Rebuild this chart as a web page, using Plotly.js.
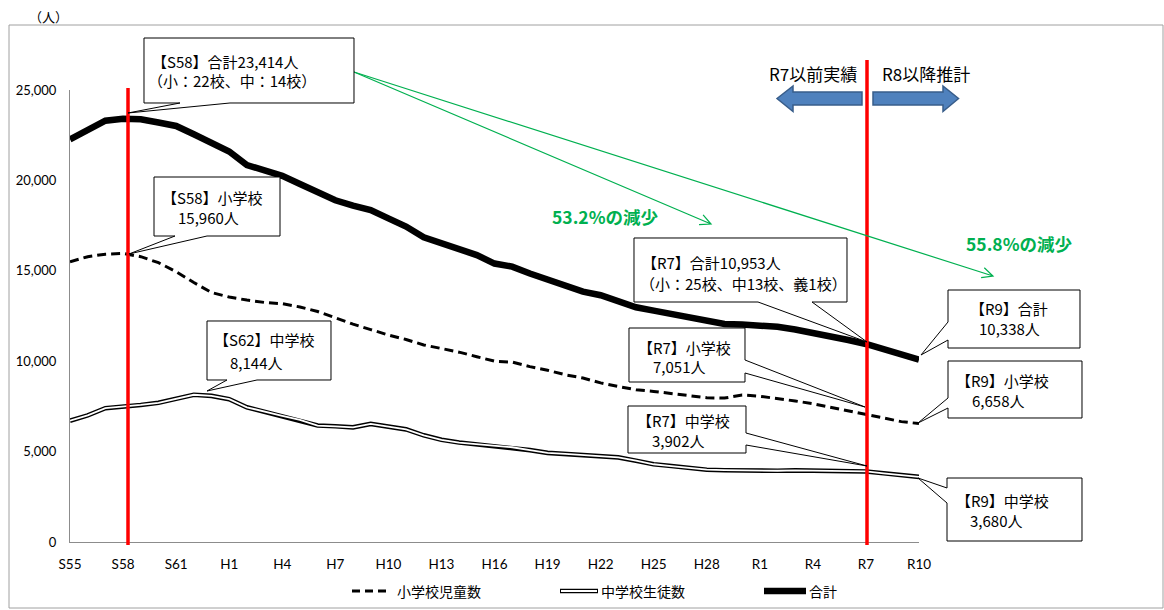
<!DOCTYPE html>
<html><head><meta charset="utf-8">
<script src="https://cdn.plot.ly/plotly-3.0.1.min.js"></script>
<style>html,body{margin:0;padding:0;background:#fff;} #chart{width:1164px;height:610px;}</style>
</head><body><div id="chart"></div>
<script>
// ---- data ----
const years = [1980,1981,1982,1983,1984,1985,1986,1987,1988,1989,
  1990,1991,1992,1993,1994,1995,1996,1997,1998,1999,
  2000,2001,2002,2003,2004,2005,2006,2007,2008,2009,
  2010,2011,2012,2013,2014,2015,2016,2017,2018,2019,
  2020,2021,2022,2023,2024,2025,2026,2027,2028];
const elementary = [15500,15780,15920,15960,15780,15450,14950,14350,13800,13550,
  13380,13250,13180,13000,12750,12400,12050,11750,11450,11200,
  10900,10700,10500,10250,10000,9950,9700,9500,9250,9070,
  8800,8600,8420,8330,8200,8080,7980,7960,8130,8060,
  7950,7800,7650,7450,7250,7051,6850,6658,6550];
const middle = [6710,7000,7400,7470,7580,7700,7930,8144,8080,7900,
  7450,7200,6980,6750,6440,6400,6340,6530,6380,6230,
  5900,5650,5500,5400,5320,5240,5080,4930,4870,4810,
  4750,4680,4500,4300,4200,4100,4000,3970,3950,3930,
  3940,3960,3950,3930,3920,3902,3800,3680,3600];
const total = [22270,22750,23300,23414,23380,23200,23010,22550,22100,21600,
  20850,20550,20250,19800,19300,18900,18600,18360,17900,17450,
  16850,16500,16150,15870,15400,15230,14850,14500,14150,13850,
  13650,13300,12980,12800,12600,12420,12250,12060,12030,11970,
  11900,11750,11580,11380,11170,10953,10680,10338,10080];
const tickVals = [1980,1983,1986,1989,1992,1995,1998,2001,2004,2007,2010,2013,2016,2019,2022,2025,2028];
const tickText = ['S55','S58','S61','H1','H4','H7','H10','H13','H16','H19','H22','H25','H28','R1','R4','R7','R10'];
const yTicks = [0,5000,10000,15000,20000,25000];
const seriesNames = ['小学校児童数','中学校生徒数','合計'];

// ---- geometry helpers (pixel -> paper) ----
const L=70, R=919, T=90, B=542;
function px(x){return (x-L)/(R-L);}
function py(y){return (B-y)/(B-T);}
function P(x,y){return px(x).toFixed(5)+','+py(y).toFixed(5);}

const JP = '"Noto Sans CJK JP", "Noto Sans", sans-serif';
const LAT = 'Lato, "Noto Sans", sans-serif';

const traces = [
  {x:years, y:elementary, name:seriesNames[0], type:'scatter', mode:'lines',
   line:{color:'#000', width:3, dash:'9px,5px'}, showlegend:false, hoverinfo:'x+y'},
  {x:years, y:middle, name:seriesNames[1], type:'scatter', mode:'lines',
   line:{color:'#000', width:4.6}, showlegend:false, hoverinfo:'x+y'},
  {x:years, y:middle, name:seriesNames[1], type:'scatter', mode:'lines',
   line:{color:'#fff', width:1.8}, showlegend:false, hoverinfo:'skip'},
  {x:years, y:total, name:seriesNames[2], type:'scatter', mode:'lines',
   line:{color:'#000', width:6.5}, showlegend:false, hoverinfo:'x+y'}
];

const shapes = [];
const annotations = [];

// outer chart border
shapes.push({type:'rect', xref:'paper', yref:'paper', x0:px(9), x1:px(1163), y0:py(608), y1:py(25),
  line:{color:'#a0a0a0', width:1}, fillcolor:'rgba(0,0,0,0)', layer:'below'});

// red divider lines
shapes.push({type:'line', xref:'paper', yref:'paper', x0:px(128), x1:px(128), y0:py(545), y1:py(88),
  line:{color:'#ff0000', width:3.5}});
shapes.push({type:'line', xref:'paper', yref:'paper', x0:px(867), x1:px(867), y0:py(545), y1:py(60),
  line:{color:'#ff0000', width:3.5}});

// blue block arrows
function poly(pts){return 'M'+pts.map(p=>P(p[0],p[1])).join(' L')+' Z';}
shapes.push({type:'path', xref:'paper', yref:'paper',
  path:poly([[777,98.5],[793,86],[793,92],[862,92],[862,105],[793,105],[793,111.5]]),
  fillcolor:'#4f81bd', line:{color:'#385d8a', width:1.5}});
shapes.push({type:'path', xref:'paper', yref:'paper',
  path:poly([[873,92],[943,92],[943,86],[958.5,98.5],[943,111.5],[943,105],[873,105]]),
  fillcolor:'#4f81bd', line:{color:'#385d8a', width:1.5}});

// green arrows (open V heads)
function greenArrow(x0,y0,x1,y1){
  const a = Math.atan2(y1-y0, x1-x0), len=12, sp=0.45;
  const h1=[x1-len*Math.cos(a-sp), y1-len*Math.sin(a-sp)];
  const h2=[x1-len*Math.cos(a+sp), y1-len*Math.sin(a+sp)];
  return 'M'+P(x0,y0)+' L'+P(x1,y1)+' M'+P(h1[0],h1[1])+' L'+P(x1,y1)+' L'+P(h2[0],h2[1]);
}
shapes.push({type:'path', xref:'paper', yref:'paper', path:greenArrow(354,72,711,224),
  line:{color:'#00b050', width:1.2}});
shapes.push({type:'path', xref:'paper', yref:'paper', path:greenArrow(354,72,993,276),
  line:{color:'#00b050', width:1.2}});

// callout boxes
function callout(b, side, base, tip){
  const [x0,y0,x1,y1]=b; let pts;
  if(side==='bottom') pts=[[x0,y0],[x1,y0],[x1,y1],[base[1],y1],tip,[base[0],y1],[x0,y1]];
  else if(side==='right') pts=[[x0,y0],[x1,y0],[x1,base[0]],tip,[x1,base[1]],[x1,y1],[x0,y1]];
  else pts=[[x0,y0],[x1,y0],[x1,y1],[x0,y1],[x0,base[1]],tip,[x0,base[0]]];
  shapes.push({type:'path', xref:'paper', yref:'paper', path:poly(pts),
    fillcolor:'#fff', line:{color:'#000', width:1}});
}
callout([144,38,354,103],'bottom',[180,230],[128,113]);
callout([154,177,280,236],'bottom',[175,207],[129,254]);
callout([207,321,331,380],'bottom',[227,257],[207,391]);
callout([634,238,847,302],'bottom',[758,812],[867,342]);
callout([629,328,745,382],'right',[360,373],[865,407]);
callout([628,406,746,453],'right',[433,445],[867,466]);
callout([948,290,1080,348],'left',[322,340],[921,355]);
callout([948,361,1082,418],'left',[398,408],[918,423]);
callout([947,478,1082,541],'left',[488,503],[918,478]);

function txt(t,x,y,opt){
  opt=opt||{};
  annotations.push({text:t, xref:'paper', yref:'paper', x:px(x), y:py(y), xanchor:opt.anchor||'left', yanchor:'middle',
    showarrow:false, font:{family:opt.family||JP, size:opt.size||15, color:opt.color||'#000'}});
}
// callout texts
txt('【S58】合計23,414人',150,61);
txt('（小：22校、中：14校）',146,80);
txt('【S58】小学校',160,197);
txt('15,960人',176,217);
txt('【S62】中学校',212,339);
txt('8,144人',228,362);
txt('【R7】合計10,953人',640,262);
txt('（小：25校、中13校、義1校）',638,283);
txt('【R7】小学校',636,347);
txt('7,051人',651,366);
txt('【R7】中学校',635,420);
txt('3,902人',650,440);
txt('【R9】合計',968,308);
txt('10,338人',977,328);
txt('【R9】小学校',954,380);
txt('6,658人',970,400);
txt('【R9】中学校',954,500);
txt('3,680人',968,520);

// green labels
txt('<b>53.2%の減少</b>',550,216,{color:'#00b050',size:17.5});
txt('<b>55.8%の減少</b>',964,243,{color:'#00b050',size:17.5});

// period labels
txt('R7以前実績',767,73,{size:17});
txt('R8以降推計',880,73,{size:17});

// unit label
txt('（人）',27,17,{size:13});

// custom legend
const legY = 591;
shapes.push({type:'line', xref:'paper', yref:'paper', x0:px(352), x1:px(389), y0:py(legY), y1:py(legY),
  line:{color:'#000', width:3, dash:'8px,5px'}});
shapes.push({type:'line', xref:'paper', yref:'paper', x0:px(560), x1:px(598), y0:py(legY), y1:py(legY),
  line:{color:'#000', width:4.6}});
shapes.push({type:'line', xref:'paper', yref:'paper', x0:px(561), x1:px(597), y0:py(legY), y1:py(legY),
  line:{color:'#fff', width:1.8}});
shapes.push({type:'line', xref:'paper', yref:'paper', x0:px(764), x1:px(806), y0:py(legY), y1:py(legY),
  line:{color:'#000', width:6.5}});
txt(seriesNames[0],395,legY,{size:14});
txt(seriesNames[1],599,legY,{size:14});
txt(seriesNames[2],807,legY,{size:14});

const layout = {
  width:1164, height:610,
  margin:{l:L, r:1164-R, t:T, b:610-B, pad:0},
  paper_bgcolor:'#fff', plot_bgcolor:'#fff',
  showlegend:false,
  xaxis:{range:[1980,2028], tickvals:tickVals, ticktext:tickText, showgrid:false, zeroline:false,
    showline:true, linecolor:'#8c8c8c', linewidth:1, ticks:'outside', ticklen:10, tickcolor:'rgba(0,0,0,0)',
    tickfont:{family:LAT, size:13.5, color:'#000'}, fixedrange:true},
  yaxis:{range:[0,25000], tickvals:yTicks, tickformat:',d', showgrid:false, zeroline:false,
    showline:true, linecolor:'#8c8c8c', linewidth:1, ticks:'outside', ticklen:10, tickcolor:'rgba(0,0,0,0)',
    tickfont:{family:LAT, size:13, color:'#000'}, fixedrange:true},
  shapes:shapes, annotations:annotations
};
Plotly.newPlot('chart', traces, layout, {displayModeBar:false, staticPlot:true});
</script></body></html>
